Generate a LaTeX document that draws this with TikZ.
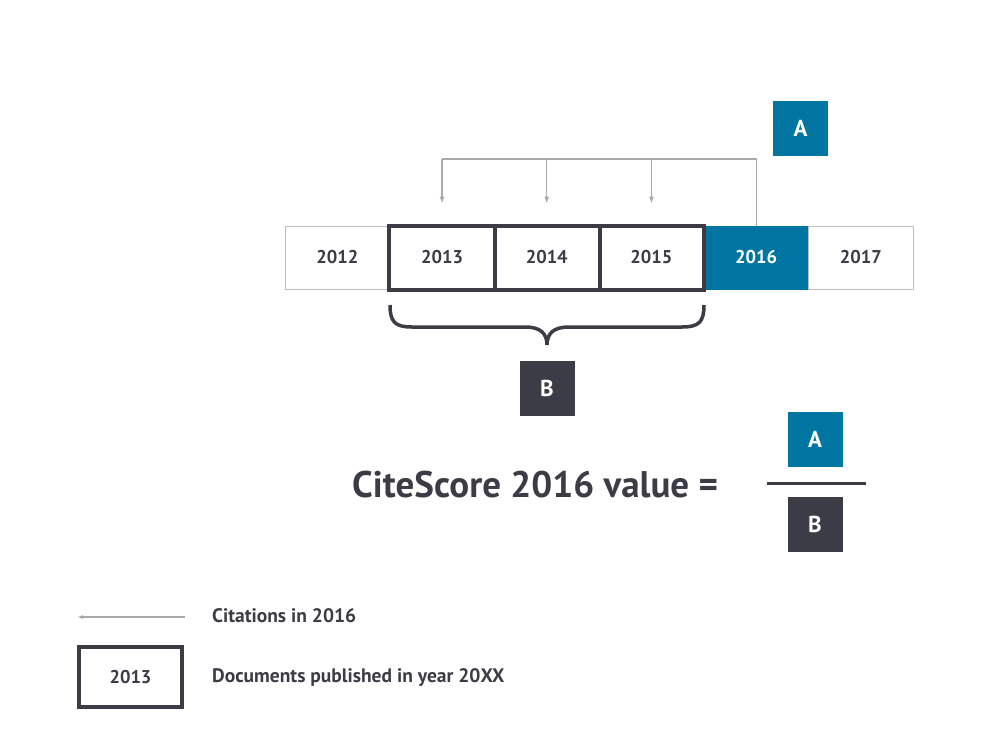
\documentclass[tikz,border=0pt]{standalone}
\usepackage{fontspec}
\setmainfont{PT Sans}
\usetikzlibrary{arrows.meta}
\definecolor{ink}{HTML}{3C3C46}
\definecolor{cblue}{HTML}{0075A2}
\definecolor{cgray}{HTML}{A9A9A9}
\definecolor{lbox}{HTML}{BDBDBD}
\begin{document}
\begin{tikzpicture}[x=1pt,y=-1pt,
  yearbox/.style={draw=lbox, line width=1pt, minimum width=104.7pt, minimum height=63pt, inner sep=0pt,
    font=\fontsize{18.5}{20}\selectfont\bfseries, text=ink},
  framebox/.style={draw=ink, line width=4pt},
  letterbox/.style={minimum width=55pt, minimum height=55pt, inner sep=0pt,
    font=\fontsize{23}{24}\selectfont\bfseries, text=white},
  cline/.style={draw=cgray, line width=1.2pt},
  tip/.style={-{Latex[length=7pt,width=5pt]}},
  legtext/.style={anchor=west, inner sep=0pt, font=\fontsize{19.5}{21}\selectfont\bfseries, text=ink}
]
\useasboundingbox (0,0) rectangle (1004,747);
\fill[white] (0,0) rectangle (1004,747);

% year row
\node[yearbox] (y2012) at (337.35,257.5) {2012};
\node[yearbox] (y2013) at (442.05,257.5) {2013};
\node[yearbox] (y2014) at (546.75,257.5) {2014};
\node[yearbox] (y2015) at (651.45,257.5) {2015};
\node[yearbox, fill=cblue, draw=cblue, text=white] (y2016) at (756.15,257.5) {2016};
\node[yearbox] (y2017) at (860.85,257.5) {2017};
\draw[framebox] (y2013.north west) rectangle (y2015.south east);
\draw[framebox] (y2013.north east) -- (y2013.south east);
\draw[framebox] (y2014.north east) -- (y2014.south east);

% A box and citation connector
\node[letterbox, fill=cblue] (atop) at (800.5,128) {A};
\coordinate (top) at (0,159);
\draw[cline] (y2016.north) -- (y2016.north |- top) -- (y2013.north |- top);
\draw[cline, tip] (y2013.north |- top) -- ([yshift=22pt]y2013.north);
\draw[cline, tip] (y2014.north |- top) -- ([yshift=22pt]y2014.north);
\draw[cline, tip] (y2015.north |- top) -- ([yshift=22pt]y2015.north);

% brace
\draw[draw=ink, line width=3.5pt]
  (390,305) .. controls (390,322) and (395,327) .. (412,327) -- (525,327)
  .. controls (540,327) and (547,333) .. (547,345)
  .. controls (547,333) and (554,327) .. (569,327) -- (682,327)
  .. controls (699,327) and (704,322) .. (704,305);
\node[letterbox, fill=ink] (bmid) at (547,388.5) {B};

% formula
\node[anchor=base west, font=\fontsize{37}{40}\selectfont\bfseries, text=ink, inner sep=0pt] (eq) at (352,497) {CiteScore 2016 value =};
\node[letterbox, fill=cblue] (afr) at (815,439.5) {A};
\node[letterbox, fill=ink] (bfr) at (815,524) {B};
\coordinate (fl) at (767,483);
\coordinate (fr) at (866,483);
\draw[draw=ink, line width=3pt] (fl) -- (fr);

% legend
\coordinate (la1) at (185,617);
\coordinate (la2) at (77,617);
\draw[cline, -{Latex[length=6pt,width=4pt]}] (la1) -- (la2);
\node[legtext] (lt1) at (212,616) {Citations in 2016};
\node[draw=ink, line width=4pt, minimum width=103pt, minimum height=60pt, inner sep=0pt,
  font=\fontsize{18.5}{20}\selectfont\bfseries, text=ink] (lb) at (130.5,677) {2013};
\node[legtext] (lt2) at (212,678) {Documents published in year 20XX};
\end{tikzpicture}
\end{document}
